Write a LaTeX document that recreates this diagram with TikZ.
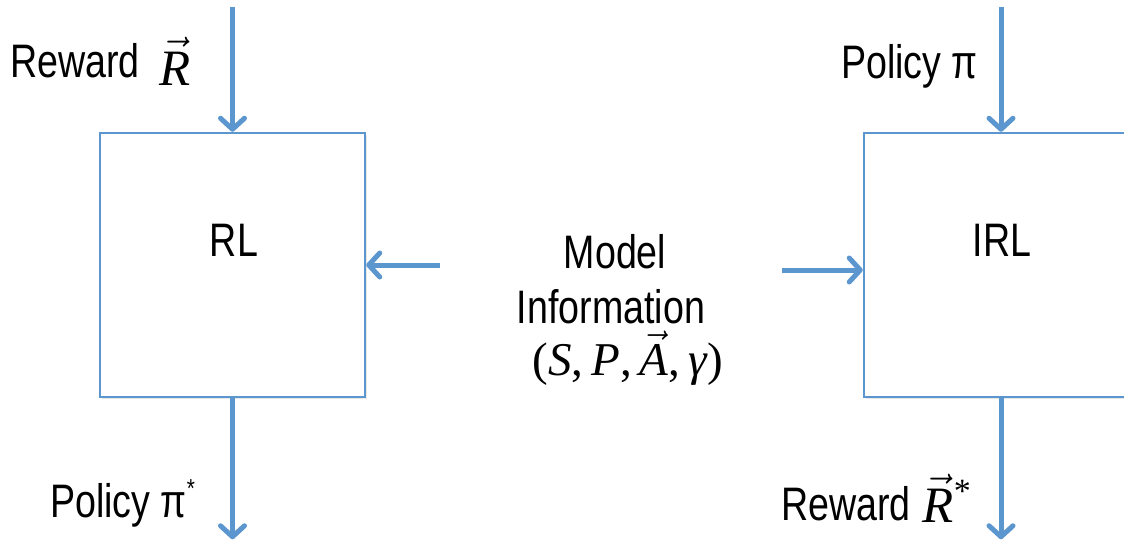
\RequirePackage{fix-cm}
\documentclass[tikz,border=0pt]{standalone}
\usepackage{fontspec}
\setmainfont{Liberation Sans}[FakeStretch=0.8]
\newfontfamily\tms{Liberation Serif}
\usetikzlibrary{arrows.meta,shadows}
\definecolor{flow}{RGB}{91,150,207}
% italic serif letter carrying a vector arrow
\newcommand\vecit[1]{\ensuremath{\vec{\hbox{\tms\itshape #1}}}}
\tikzset{
  blockbox/.style={draw=flow, fill=white, line width=2.5pt, inner sep=0pt,
    minimum height=264pt,
    drop shadow={opacity=0.18, shadow xshift=2pt, shadow yshift=-2pt}},
  flowarrow/.style={draw=flow, line width=5pt,
    -{Straight Barb[length=11pt,width=24pt,round]}},
  lbl/.style={inner sep=0pt, font=\fontsize{47}{56}\selectfont},
  mathlbl/.style={inner sep=0pt, font=\fontsize{47}{56}\selectfont\tms},
}
\begin{document}
\begin{tikzpicture}[x=1pt,y=-1pt]
\useasboundingbox (0,0) rectangle (1124,546);
\begin{scope}
\clip (0,0) rectangle (1124,546);

% the two blocks
\node[blockbox, minimum width=265pt] (rl) at (232.5,265) {};
\node[blockbox, minimum width=274pt] (irl) at (1001,265) {};
\node[lbl] (rltext) at (234,240.5) {RL};
\node[lbl] (irltext) at (1002,240.5) {IRL};

% free ends of the vertical connectors
\path (rl.north) ++(0,-125) coordinate (rlin);
\path (rl.south) ++(0,141) coordinate (rlout);
\path (irl.north) ++(0,-125) coordinate (irlin);
\path (irl.south) ++(0,141) coordinate (irlout);
\draw[flowarrow] (rlin) -- (rl.north);
\draw[flowarrow] (rl.south) -- (rlout);
\draw[flowarrow] (irlin) -- (irl.north);
\draw[flowarrow] (irl.south) -- (irlout);

% model information feeding both blocks
\coordinate (mL) at (440,265);
\coordinate (mR) at (782,270);
\draw[flowarrow] (mL) -- (rl.east);
\draw[flowarrow] (mR) -- (mR -| irl.west);

\node[lbl, anchor=base] (model1) at (615,268) {Model};
\node[lbl, anchor=base] (model2) at (611,323) {Information};
\node[mathlbl, anchor=base] (model3) at (628,375)
  {(\textit{S},\,\textit{P},\,\vecit{A},\,\textit{γ})};

% inputs and outputs
\node[lbl, anchor=base west] (rewardin) at (10,77)
  {Reward\hspace{20pt}\raisebox{-8pt}{\fontsize{51}{60}\selectfont\vecit{R}}};
\node[lbl, anchor=base west] (policyin) at (841,78) {Policy π};
\node[lbl, anchor=base west] (policyout) at (50,517)
  {Policy π\raisebox{20pt}{\fontsize{26}{30}\selectfont *}};
\node[lbl, anchor=base west] (rewardout) at (781,520)
  {Reward\hspace{12pt}\raisebox{-2pt}{\fontsize{51}{60}\selectfont\vecit{R}\raisebox{20pt}{\fontsize{34}{40}\selectfont\tms *}}};
\end{scope}
\end{tikzpicture}
\end{document}
